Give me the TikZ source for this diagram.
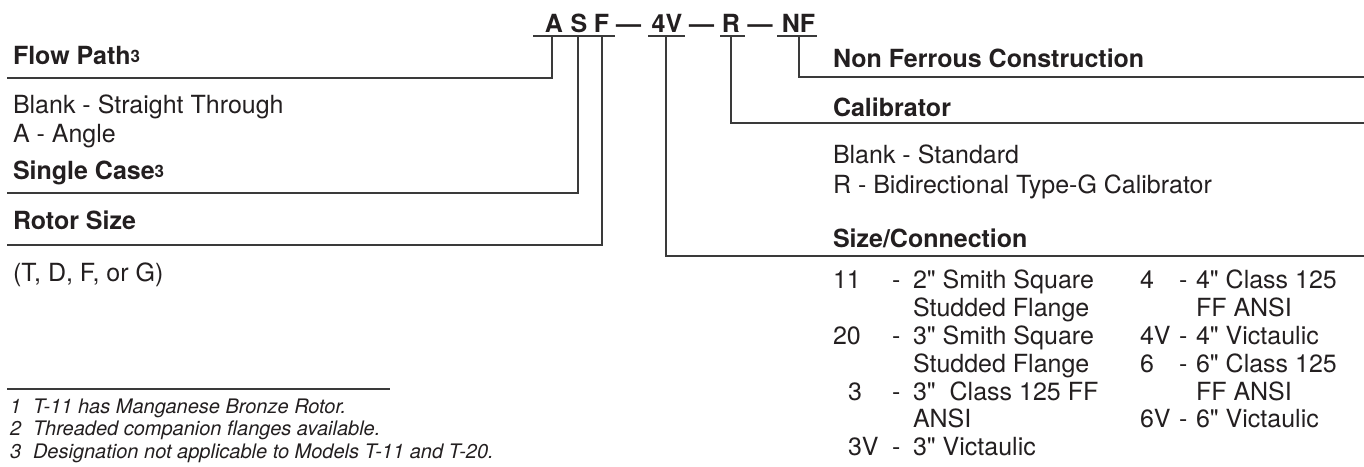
\documentclass[tikz,border=0pt]{standalone}
\usepackage{fontspec}
\setmainfont{TeX Gyre Heros}
\newfontfamily\plainhv{TeX Gyre Heros}
\definecolor{ink}{HTML}{231F20}
\definecolor{rulec}{HTML}{3A3A3A}
\newcommand\fnmk[1]{\raisebox{2pt}{\fontsize{17}{17}\selectfont #1}}
\newcommand\inchmk{{\plainhv\symbol{34}}}
\begin{document}
\begin{tikzpicture}[x=1pt,y=-1pt,
  txt/.style={anchor=base west,inner sep=0pt,outer sep=0pt,text=ink,font=\fontsize{25}{30}\selectfont},
  hdr/.style={anchor=base west,inner sep=0pt,outer sep=0pt,text=ink,font=\fontsize{25}{30}\selectfont\bfseries},
  codel/.style={anchor=base,inner sep=0pt,outer sep=0pt,text=ink,font=\fontsize{25}{30}\selectfont\bfseries},
  note/.style={anchor=base west,inner sep=0pt,outer sep=0pt,text=ink,font=\fontsize{20}{24}\selectfont\itshape},
  rule/.style={draw=rulec,line width=1.4pt},
  thin/.style={draw=rulec,line width=1.1pt},
]
\useasboundingbox (0,0) rectangle (1364,466);
% ---- model code ----
\node[codel] (cA)  at (554,32) {A};
\node[codel] (cS)  at (579,32) {S};
\node[codel] (cF)  at (601.5,32) {F};
\node[codel] (d1)  at (628.5,32) {\textemdash};
\node[codel] (c4V) at (667,32) {4V};
\node[codel] (d2)  at (701.5,32) {\textemdash};
\node[codel] (cR)  at (731,32) {R};
\node[codel] (d3)  at (760,32) {\textemdash};
\node[codel] (cNF) at (798.5,32) {NF};
% underlines
\coordinate (u1a) at (533,36); \coordinate (u1b) at (615,36);
\coordinate (u2a) at (648,36); \coordinate (u2b) at (685,36);
\coordinate (u3a) at (720,36); \coordinate (u3b) at (745,36);
\coordinate (u4a) at (777,36); \coordinate (u4b) at (817,36);
\draw[rule] (u1a) -- (u1b);
\draw[rule] (u2a) -- (u2b);
\draw[rule] (u3a) -- (u3b);
\draw[rule] (u4a) -- (u4b);
% leader lines
\coordinate (vA) at (552,36);  \coordinate (eA) at (7,78);
\coordinate (vS) at (578,36);  \coordinate (eS) at (7,193);
\coordinate (vF) at (602,36);  \coordinate (eF) at (7,245);
\coordinate (v4) at (666,36);  \coordinate (e4) at (1364,256);
\coordinate (vR) at (731,36);  \coordinate (eR) at (1364,123);
\coordinate (vN) at (799,36);  \coordinate (eN) at (1364,77);
\draw[rule] (vA) |- (eA);
\draw[rule] (vS) |- (eS);
\draw[rule] (vF) |- (eF);
\draw[rule] (v4) |- (e4);
\draw[rule] (vR) |- (eR);
\draw[rule] (vN) |- (eN);
% ---- left texts ----
\node[hdr] (flow) at (13,64) {Flow Path\fnmk{3}};
\node[txt] (fl1) at (13,113) {Blank - Straight Through};
\node[txt] (fl2) at (13,142) {A - Angle};
\node[hdr] (single) at (13,179) {Single Case\fnmk{3}};
\node[hdr] (rotor) at (13,229) {Rotor Size};
\node[txt] (rot1) at (13,281) {(T, D, F, or G)};
% ---- right texts ----
\node[hdr] (nf) at (833,67) {Non Ferrous Construction};
\node[hdr] (cal) at (833,116) {Calibrator};
\node[txt] (cal1) at (833,163) {Blank - Standard};
\node[txt] (cal2) at (833,193) {R - Bidirectional Type-G Calibrator};
\node[hdr] (sc) at (833,247) {Size/Connection};
% table left column
\node[txt] (n11) at (833,288) {11};
\node[txt] (m11) at (892,288) {-};
\node[txt] (t11) at (913,288) {2\inchmk{} Smith Square};
\node[txt] (t11b) at (913,316) {Studded Flange};
\node[txt] (n20) at (833,344) {20};
\node[txt] (m20) at (892,344) {-};
\node[txt] (t20) at (913,344) {3\inchmk{} Smith Square};
\node[txt] (t20b) at (913,372) {Studded Flange};
\node[txt] (n3) at (848,400) {3};
\node[txt] (m3) at (892,400) {-};
\node[txt] (t3) at (913,400) {3\inchmk\ \ Class 125 FF};
\node[txt] (t3b) at (913,427) {ANSI};
\node[txt] (n3V) at (848,455) {3V};
\node[txt] (m3V) at (892,455) {-};
\node[txt] (t3V) at (913,455) {3\inchmk{} Victaulic};
% table right column
\node[txt] (n4) at (1140,288) {4};
\node[txt] (m4) at (1179,288) {-};
\node[txt] (t4) at (1196,288) {4\inchmk{} Class 125};
\node[txt] (t4b) at (1196,316) {FF ANSI};
\node[txt] (n4V) at (1140,344) {4V};
\node[txt] (m4V) at (1179,344) {-};
\node[txt] (t4V) at (1196,344) {4\inchmk{} Victaulic};
\node[txt] (n6) at (1140,372) {6};
\node[txt] (m6) at (1179,372) {-};
\node[txt] (t6) at (1196,372) {6\inchmk{} Class 125};
\node[txt] (t6b) at (1196,400) {FF ANSI};
\node[txt] (n6V) at (1140,427) {6V};
\node[txt] (m6V) at (1179,427) {-};
\node[txt] (t6V) at (1196,427) {6\inchmk{} Victaulic};
% ---- footnotes ----
\coordinate (fa) at (7,389); \coordinate (fb) at (390,389);
\draw[thin] (fa) -- (fb);
\node[note] (f1n) at (10,413) {1};
\node[note] (f1) at (33,413) {T-11 has Manganese Bronze Rotor.};
\node[note] (f2n) at (10,435) {2};
\node[note] (f2) at (33,435) {Threaded companion flanges available.};
\node[note] (f3n) at (10,458) {3};
\node[note] (f3) at (33,458) {Designation not applicable to Models T-11 and T-20.};
\end{tikzpicture}
\end{document}
